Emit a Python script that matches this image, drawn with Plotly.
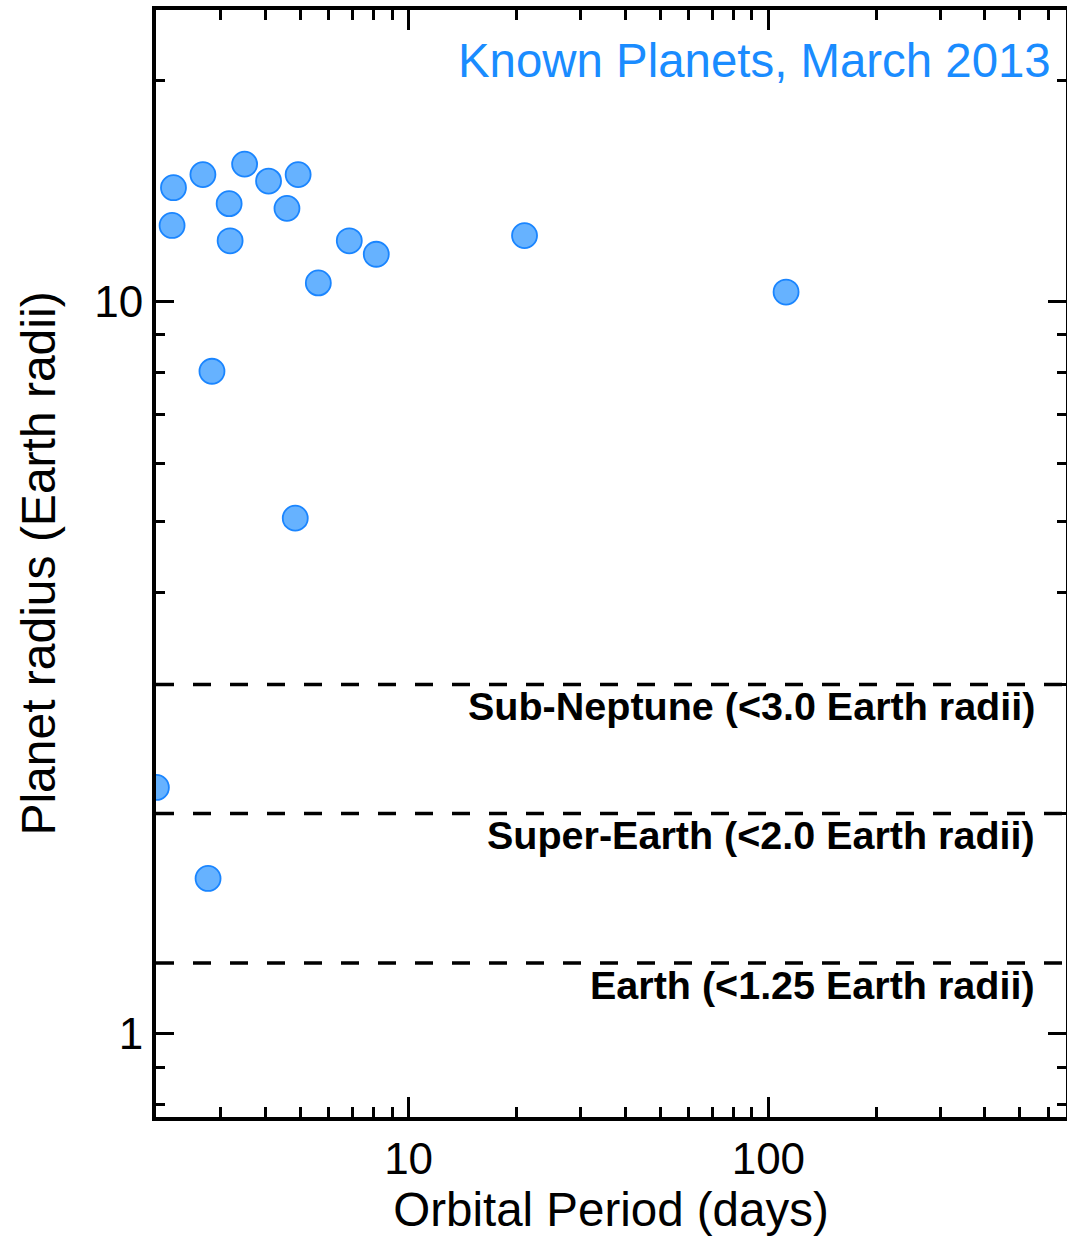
import numpy as np
import plotly.graph_objects as go

# Data
period_days = [2.22, 2.20, 2.68, 3.17, 3.19, 3.50, 4.08, 4.59, 4.93, 5.61,
               6.84, 8.13, 21.0, 112.0, 2.84, 4.84, 1.99, 2.77]
radius_earth = [14.3, 12.7, 14.9, 13.6, 12.1, 15.4, 14.6, 13.4, 14.9, 10.6,
                12.1, 11.6, 12.3, 10.3, 8.03, 5.06, 2.17, 1.63]

thresholds = [3.0, 2.0, 1.25]
threshold_labels = ["Sub-Neptune (<3.0 Earth radii)",
                    "Super-Earth (<2.0 Earth radii)",
                    "Earth (<1.25 Earth radii)"]

x_major = [10, 100]
x_minor = [3, 4, 5, 6, 7, 8, 9, 20, 30, 40, 50, 60, 70, 80, 90, 200, 300, 400, 500, 600]
y_major = [1, 10]
y_minor = [0.8, 0.9, 2, 3, 4, 5, 6, 7, 8, 9, 20]

FONT = "Liberation Sans, Arial, Helvetica, sans-serif"
BLUE_TXT = "#1a8cff"

fig = go.Figure()
fig.add_trace(go.Scatter(
    x=period_days, y=radius_earth, mode="markers",
    marker=dict(size=25, color="#66b2ff", line=dict(color="#1a85ff", width=1.8)),
    showlegend=False, cliponaxis=True,
))

for t, lab in zip(thresholds, threshold_labels):
    fig.add_shape(type="line", xref="paper", yref="y", x0=0, x1=1, y0=t, y1=t,
                  line=dict(color="black", width=3.5, dash="18px,19px"))
    fig.add_annotation(xref="paper", yref="y", x=0.968, y=np.log10(t), text=lab,
                       showarrow=False, xanchor="right", yanchor="middle", yshift=-22,
                       font=dict(family=FONT, size=39.5, color="black", weight="bold"))

fig.add_annotation(xref="paper", yref="paper", x=0.986, y=0.954,
                   text="Known Planets, March 2013", showarrow=False,
                   xanchor="right", yanchor="middle",
                   font=dict(family=FONT, size=47.4, color=BLUE_TXT))

axis_common = dict(
    showgrid=False, zeroline=False, showline=True, linecolor="black", linewidth=4,
    mirror="ticks", ticks="inside", tickwidth=3, tickcolor="black",
    tickfont=dict(family=FONT, size=44, color="black"),
)

fig.update_xaxes(type="log", range=[np.log10(1.985), np.log10(672)],
                 tickvals=x_major, ticktext=[str(v) for v in x_major], ticklen=20,
                 minor=dict(tickvals=x_minor, ticks="inside", ticklen=10, tickwidth=3,
                            tickcolor="black", showgrid=False),
                 title=dict(text="Orbital Period (days)", standoff=10,
                            font=dict(family=FONT, size=47.5, color="black")),
                 **axis_common)
fig.update_yaxes(type="log", range=[np.log10(0.77), np.log10(25)],
                 tickvals=y_major, ticktext=[str(v) for v in y_major], ticklen=18,
                 minor=dict(tickvals=y_minor, ticks="inside", ticklen=9, tickwidth=3,
                            tickcolor="black", showgrid=False),
                 title=dict(text="Planet radius (Earth radii)", standoff=24,
                            font=dict(family=FONT, size=48, color="black")),
                 **axis_common)

fig.update_layout(
    width=1067, height=1241,
    margin=dict(l=156, r=1, t=10, b=124, autoexpand=False),
    plot_bgcolor="white", paper_bgcolor="white",
)

fig.write_html("out.html")
